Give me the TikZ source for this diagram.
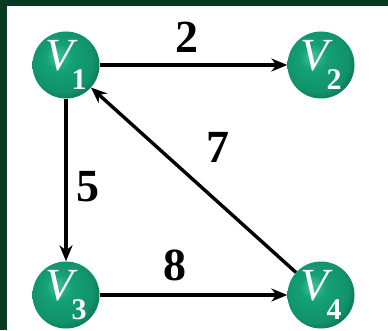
\documentclass[tikz,border=0pt]{standalone}
\usepackage{fontspec}
\setmainfont{Liberation Serif}
\usetikzlibrary{arrows.meta, positioning}

\definecolor{framegreen}{RGB}{8,58,34}
\definecolor{ballhl}{RGB}{70,192,152}
\definecolor{ballmid}{RGB}{20,160,118}
\definecolor{balledge}{RGB}{6,104,74}
\pgfdeclareradialshading{greenball}{\pgfpoint{-7bp}{7bp}}{color(0bp)=(ballhl); color(10bp)=(ballmid); color(24bp)=(ballmid!75!balledge); color(33bp)=(balledge); color(50bp)=(balledge)}

\newcommand{\vname}[1]{{\itshape V}\kern-2pt\raisebox{-19pt}{\fontsize{30}{30}\selectfont\bfseries #1}}

\begin{document}
\begin{tikzpicture}[x=1pt, y=1pt,
    vertex/.style={circle, shading=greenball, minimum size=67pt, inner sep=0pt, text=white, font=\fontsize{46}{46}\selectfont},
    weight/.style={font=\fontsize{46}{46}\selectfont\bfseries, inner sep=0pt},
    arrow/.style={-{Stealth[length=16pt, width=13pt]}, line width=3.4pt, black}
]

    % Frame: dark band on top and left only.
    \fill[framegreen] (0, 0) rectangle (388, 330);
    \fill[white] (7, 0) rectangle (388, 324);
    \useasboundingbox (0, 0) rectangle (388, 330);

    \node[vertex] (v1) at (66, 265) {\vname{1}};
    \node[vertex] (v2) at (321, 265) {\vname{2}};
    \node[vertex] (v3) at (66, 35) {\vname{3}};
    \node[vertex] (v4) at (321, 35) {\vname{4}};

    \draw[arrow] (v1) -- (v2);
    \draw[arrow] (v1) -- (v3);
    \draw[arrow] (v3) -- (v4);
    \draw[arrow] (v4) -- (v1);

    \node[weight] at (187, 293) {2};
    \node[weight] at (88, 143) {5};
    \node[weight] at (218, 183) {7};
    \node[weight] at (175, 65) {8};

\end{tikzpicture}
\end{document}
